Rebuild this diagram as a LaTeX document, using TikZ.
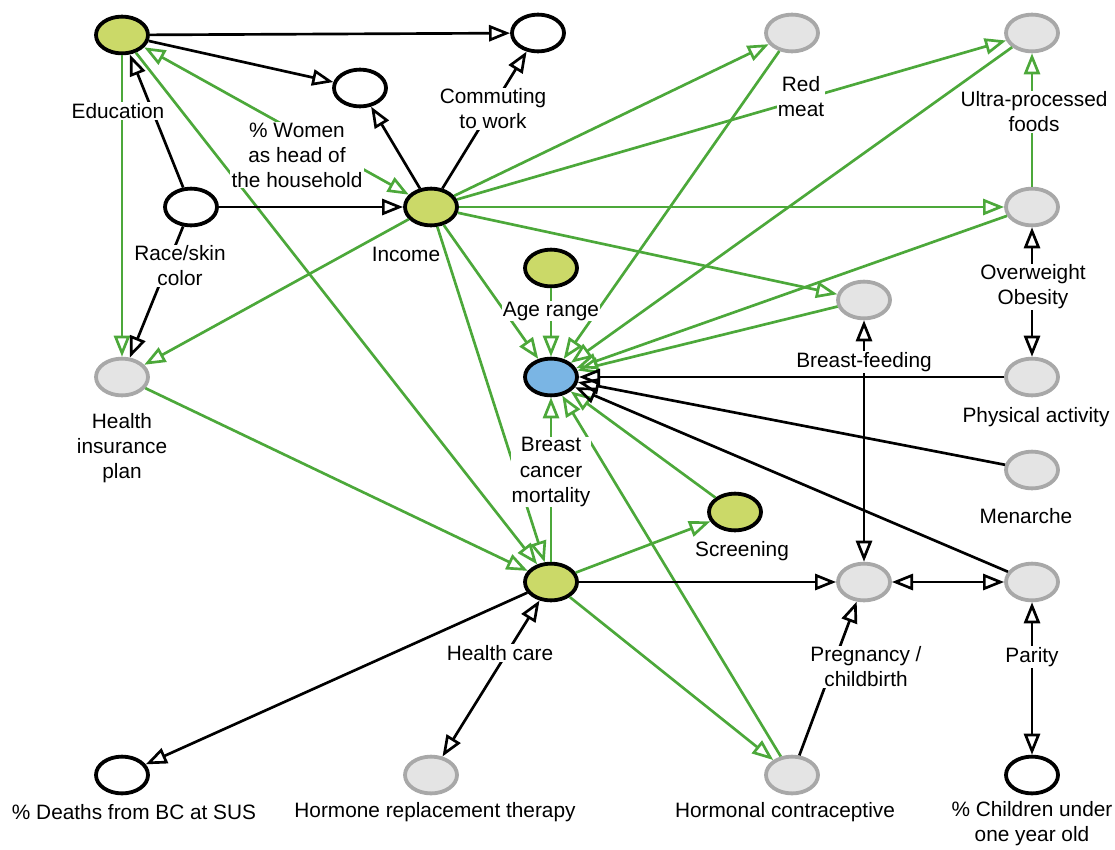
\documentclass[tikz,border=0pt]{standalone}
\usepackage{fontspec}
\setmainfont{Liberation Sans}
\usetikzlibrary{arrows.meta,shapes.geometric}

\definecolor{lgreen}{RGB}{76,168,58}
\definecolor{nodegreen}{RGB}{203,217,104}
\definecolor{nodeblue}{RGB}{122,181,228}
\definecolor{nodegrey}{RGB}{228,228,228}
\definecolor{bordergrey}{RGB}{168,168,168}

\begin{document}
\begin{tikzpicture}[x=0.025cm, y=-0.025cm,
  >={Triangle[open, length=15pt, width=11.5pt]},
  var/.style={ellipse, draw=black, line width=2.7pt, minimum width=1.3cm, minimum height=0.92cm, inner sep=0pt},
  expo/.style={var, fill=nodegreen},
  outc/.style={var, fill=nodeblue},
  unobs/.style={var, fill=white},
  other/.style={var, fill=nodegrey, draw=bordergrey},
  blk/.style={->, line width=1.9pt},
  grn/.style={blk, draw=lgreen},
  lbl/.style={fill=white, inner sep=0.8pt, align=center, font=\fontsize{14.8}{17.8}\selectfont}]
\useasboundingbox (0,0) rectangle (1115,849);

% variables
\node[expo] (edu) at (122,35) {};
\node[unobs] (comm) at (538,33) {};
\node[unobs] (women) at (360,88) {};
\node[unobs] (race) at (191,207) {};
\node[expo] (income) at (431,207) {};
\node[other] (redmeat) at (792,33) {};
\node[other] (ultra) at (1032,33) {};
\node[other] (overw) at (1032,207) {};
\node[expo] (age) at (551,268) {};
\node[other] (bfeed) at (864,300) {};
\node[outc] (bcm) at (551,377) {};
\node[other] (phys) at (1032,377) {};
\node[other] (hip) at (122,377) {};
\node[other] (menar) at (1032,470) {};
\node[expo] (screen) at (735,512) {};
\node[expo] (hcare) at (551,582) {};
\node[other] (preg) at (864,582) {};
\node[other] (parity) at (1032,582) {};
\node[unobs] (deaths) at (122,775) {};
\node[other] (hrt) at (431,775) {};
\node[other] (hcontr) at (792,775) {};
\node[unobs] (child) at (1032,775) {};

% green paths
\foreach \a/\b in {edu/hip, edu/hcare, income/redmeat, income/ultra, income/overw,
  income/bfeed, income/hip, income/bcm, income/hcare, age/bcm, redmeat/bcm,
  ultra/bcm, overw/bcm, bfeed/bcm, overw/ultra, hip/hcare, hcare/bcm,
  hcare/screen, screen/bcm, hcare/hcontr, hcontr/bcm}
  \draw[grn] (\a) -- (\b);
\draw[grn, <->] (edu) -- (income);

% black paths
\foreach \a/\b in {edu/comm, edu/women, race/edu, race/income, race/hip,
  income/women, income/comm, phys/bcm, menar/bcm, parity/bcm, hcare/preg,
  hcontr/preg, hcare/deaths}
  \draw[blk] (\a) -- (\b);
\foreach \a/\b in {bfeed/preg, preg/parity, parity/child, overw/phys, hcare/hrt}
  \draw[blk, <->] (\a) -- (\b);

% labels
\node[lbl] (edu-l) at (118,111) {Education};
\node[lbl] (comm-l) at (493,109) {Commuting\\to work};
\node[lbl] (women-l) at (297,155) {\% Women\\as head of\\the household};
\node[lbl] (race-l) at (180,266) {Race/skin\\color};
\node[lbl] (income-l) at (406,254) {Income};
\node[lbl] (redmeat-l) at (801,97) {Red\\meat};
\node[lbl] (ultra-l) at (1034,112) {Ultra-processed\\foods};
\node[lbl] (overw-l) at (1033,287) {Overweight\\Obesity};
\node[lbl] (age-l) at (551,311) {Age range};
\node[lbl] (bfeed-l) at (864,362) {Breast-feeding};
\node[lbl] (bcm-l) at (551,472) {Breast\\cancer\\mortality};
\node[lbl] (phys-l) at (1036,417) {Physical activity};
\node[lbl] (hip-l) at (122,448) {Health\\insurance\\plan};
\node[lbl] (menar-l) at (1026,516) {Menarche};
\node[lbl] (screen-l) at (742,551) {Screening};
\node[lbl] (hcare-l) at (500,653) {Health care};
\node[lbl] (preg-l) at (866,667) {Pregnancy /\\childbirth};
\node[lbl] (parity-l) at (1032,657) {Parity};
\node[lbl] (deaths-l) at (134,812) {\% Deaths from BC at SUS};
\node[lbl] (hrt-l) at (435,812) {Hormone replacement therapy};
\node[lbl] (hcontr-l) at (785,812) {Hormonal contraceptive};
\node[lbl] (child-l) at (1032,824) {\% Children under\\one year old};
\end{tikzpicture}
\end{document}
